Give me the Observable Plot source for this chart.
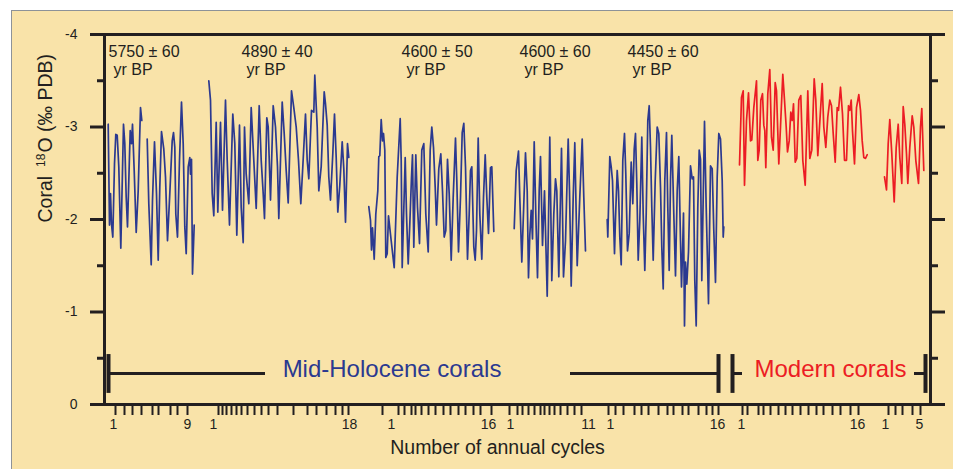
<!DOCTYPE html>
<html><head><meta charset="utf-8">
<script src="https://cdn.jsdelivr.net/npm/d3@7"></script>
<script src="https://cdn.jsdelivr.net/npm/@observablehq/plot@0.6"></script>
<style>
html,body{margin:0;padding:0;background:#fff;}
#wrap{position:relative;width:953px;height:469px;overflow:hidden;}
#bg{position:absolute;left:11px;top:10px;right:0;bottom:0;background:#f9e3a9;border-top:1.5px solid #8d9298;border-left:1.5px solid #8d9298;}
#chart{position:absolute;left:0;top:0;}
</style></head><body>
<div id="wrap"><div id="bg"></div><div id="chart"></div></div>
<script>
// ---- data: [composite position along record, coral d18O (‰ PDB)] ----
const mh5750a = [[107.7,-3.03],[109.0,-1.94],[110.0,-2.28],[111.0,-1.95],[112.3,-1.81],[114.0,-2.60],[115.3,-2.92],[116.7,-2.91],[118.3,-2.57],[120.3,-1.69],[123.0,-3.03],[124.3,-2.82],[125.7,-2.24],[127.0,-1.92],[129.7,-2.96],[131.0,-2.82],[132.0,-3.03],[133.7,-2.53],[135.7,-1.86],[137.7,-2.31],[140.0,-3.21],[141.3,-3.07]];
const mh5750b = [[146.7,-2.87],[148.3,-2.17],[150.7,-1.51],[152.0,-2.21],[154.0,-2.84],[156.0,-2.28],[157.7,-1.56],[159.3,-2.35],[161.0,-2.95],[163.3,-2.76],[165.0,-2.46],[167.0,-1.77],[169.3,-2.28],[171.7,-2.85],[173.0,-2.94],[174.3,-2.78],[175.3,-2.06],[177.0,-1.81],[179.0,-2.64],[181.0,-3.27],[182.7,-2.82],[184.3,-1.92],[185.7,-1.63],[187.7,-2.57],[189.3,-2.67],[190.0,-2.49],[191.0,-2.65],[192.0,-1.41],[193.7,-1.94]];
const mh4890 = [[208.3,-3.50],[210.0,-3.29],[211.7,-2.28],[213.3,-2.04],[215.7,-3.05],[217.3,-2.08],[220.0,-3.05],[222.0,-2.10],[225.0,-3.29],[226.7,-2.64],[229.0,-1.94],[232.3,-3.14],[234.3,-2.82],[236.3,-1.83],[239.0,-3.02],[240.7,-2.13],[242.7,-1.75],[244.0,-3.00],[245.7,-2.49],[248.3,-2.17],[250.7,-3.21],[253.3,-2.64],[255.7,-2.12],[258.7,-3.23],[260.7,-2.64],[262.7,-2.28],[264.0,-2.01],[266.3,-3.10],[267.7,-3.00],[270.0,-2.21],[272.7,-3.23],[275.0,-3.00],[277.0,-2.57],[278.3,-2.01],[281.7,-3.27],[283.7,-2.93],[285.7,-2.53],[287.7,-2.18],[291.0,-3.39],[293.3,-3.21],[295.7,-3.00],[298.0,-2.64],[300.3,-2.17],[302.3,-2.57],[305.0,-3.14],[306.7,-2.64],[308.3,-2.44],[311.0,-3.18],[313.3,-3.16],[314.3,-3.56],[316.7,-3.00],[318.3,-2.31],[320.7,-2.57],[323.7,-3.38],[325.0,-3.25],[326.7,-3.02],[328.3,-2.46],[330.0,-2.21],[332.3,-2.71],[334.0,-3.14],[335.7,-2.67],[337.3,-2.08],[339.3,-2.37],[341.7,-2.84],[343.3,-2.55],[345.0,-1.97],[347.0,-2.82],[348.3,-2.67]];
const mh4600a = [[368.3,-2.14],[370.0,-1.99],[371.0,-1.67],[372.0,-1.91],[373.7,-1.57],[375.3,-2.06],[377.3,-2.31],[378.3,-2.68],[379.3,-2.69],[380.7,-3.08],[382.0,-2.85],[383.0,-2.93],[384.3,-2.75],[385.3,-1.59],[386.7,-1.63],[388.0,-2.04],[390.7,-1.77],[393.7,-1.48],[396.7,-2.46],[399.7,-3.09],[400.7,-2.64],[401.7,-1.48],[403.0,-1.99],[404.7,-2.67],[406.0,-2.06],[407.7,-1.52],[409.3,-1.95],[411.0,-2.46],[412.0,-2.70],[413.3,-1.70],[415.3,-2.70],[417.0,-2.13],[419.0,-1.74],[421.3,-2.75],[423.3,-2.82],[425.3,-2.06],[427.7,-1.65],[429.7,-2.75],[431.3,-3.00],[433.0,-2.78],[434.7,-2.35],[436.0,-1.94],[438.3,-2.55],[440.3,-2.71],[442.0,-2.31],[443.7,-1.81],[445.3,-1.88],[447.0,-2.65],[448.7,-2.28],[450.7,-1.56],[452.7,-2.24],[455.0,-2.88],[456.3,-2.42],[458.0,-1.65],[460.0,-2.24],[461.7,-2.94],[463.3,-3.04],[465.0,-2.57],[467.0,-1.57],[468.7,-2.06],[470.0,-2.53],[471.3,-2.57],[473.3,-1.70],[474.7,-1.56],[476.0,-1.88],[477.7,-2.88],[479.3,-2.06],[481.3,-1.57],[483.0,-2.24],[484.7,-2.70],[486.3,-2.24],[488.0,-1.85],[490.0,-2.56],[491.3,-2.57],[493.3,-1.87]];
const mh4600b = [[513.7,-1.90],[515.7,-2.53],[518.0,-2.74],[519.3,-2.24],[521.3,-1.54],[523.3,-2.17],[525.0,-2.72],[526.7,-2.31],[528.0,-1.37],[529.3,-1.83],[530.7,-2.10],[532.0,-1.79],[533.7,-2.84],[535.3,-2.06],[537.0,-1.37],[538.7,-2.31],[540.0,-2.68],[542.0,-1.72],[544.0,-2.31],[546.7,-1.17],[548.0,-1.99],[549.3,-2.89],[551.3,-1.34],[553.3,-2.06],[555.0,-2.44],[556.3,-2.31],[558.3,-1.38],[561.0,-2.77],[563.0,-1.38],[565.0,-1.77],[567.7,-2.87],[569.0,-2.31],[570.7,-1.28],[572.7,-2.24],[574.3,-2.83],[576.7,-1.50],[579.3,-2.24],[581.7,-2.87],[583.3,-2.24],[585.0,-1.66]];
const mh4450 = [[606.7,-2.00],[607.3,-1.81],[609.3,-2.68],[610.7,-2.57],[612.0,-2.42],[614.0,-1.63],[615.0,-2.01],[616.7,-2.53],[618.0,-2.31],[619.3,-1.81],[620.7,-1.51],[622.3,-2.64],[624.0,-2.93],[625.3,-2.49],[627.0,-1.66],[628.7,-1.85],[630.7,-2.62],[632.3,-2.17],[633.7,-2.76],[635.0,-2.93],[636.3,-2.39],[637.7,-1.56],[639.3,-1.99],[641.3,-2.89],[642.7,-2.06],[644.3,-1.45],[645.7,-2.06],[647.3,-3.07],[648.7,-3.23],[650.0,-2.78],[651.3,-2.13],[652.7,-1.56],[654.7,-2.42],[656.7,-3.00],[658.3,-2.93],[660.0,-2.35],[661.3,-1.70],[662.7,-1.25],[664.3,-2.42],[666.0,-2.94],[667.3,-2.13],[668.7,-1.45],[670.0,-2.42],[671.3,-2.91],[673.3,-2.06],[675.0,-1.39],[676.7,-2.31],[678.3,-2.68],[680.0,-1.77],[681.0,-1.27],[682.0,-1.63],[683.0,-2.07],[684.0,-0.85],[685.0,-1.54],[686.3,-1.30],[688.0,-1.65],[690.0,-2.58],[691.7,-2.44],[693.0,-2.46],[694.3,-1.34],[695.7,-0.85],[697.3,-2.13],[698.7,-2.75],[700.0,-2.65],[701.3,-1.34],[704.0,-3.06],[705.7,-2.13],[708.0,-1.09],[710.0,-2.58],[711.7,-2.55],[713.3,-1.88],[715.0,-1.32],[716.7,-2.46],[718.3,-2.93],[720.0,-2.87],[721.7,-2.42],[722.7,-1.81],[723.3,-1.92]];
const modernA = [[739.0,-2.59],[741.0,-3.32],[742.7,-3.39],[744.0,-2.37],[746.0,-3.07],[748.0,-3.37],[750.0,-2.85],[751.3,-2.86],[753.3,-3.21],[756.0,-3.50],[757.3,-2.64],[758.7,-2.75],[760.3,-3.29],[762.0,-3.36],[763.3,-3.02],[764.3,-2.96],[765.3,-2.56],[767.3,-3.36],[769.3,-3.62],[771.0,-2.89],[772.7,-2.75],[774.7,-3.48],[776.0,-3.39],[778.3,-2.60],[780.0,-3.00],[782.3,-3.57],[784.0,-3.29],[785.7,-3.00],[787.0,-2.73],[788.7,-2.85],[790.3,-3.16],[791.7,-3.07],[793.0,-3.25],[794.7,-2.62],[796.3,-2.66],[798.3,-3.29],[800.3,-3.34],[802.3,-2.64],[804.7,-2.37],[807.3,-3.39],[809.3,-2.66],[811.3,-2.75],[813.7,-3.52],[815.3,-3.29],[817.3,-2.69],[820.0,-3.18],[821.7,-3.47],[823.3,-3.00],[825.3,-2.78],[827.3,-3.11],[829.3,-3.29],[831.0,-3.23],[832.7,-2.93],[834.7,-2.62],[836.7,-3.21],[838.0,-3.18],[840.0,-3.43],[842.0,-3.14],[844.0,-2.64],[846.0,-2.64],[848.0,-3.23],[849.3,-3.18],[850.7,-3.29],[852.0,-2.96],[854.0,-2.60],[856.0,-3.21],[858.3,-3.35],[860.0,-3.18],[861.7,-2.85],[863.3,-2.67],[865.0,-2.66],[866.7,-2.70]];
const modernB = [[884.0,-2.46],[886.0,-2.32],[887.7,-2.82],[889.3,-3.08],[891.3,-2.71],[893.7,-2.19],[895.7,-2.78],[897.7,-3.03],[899.3,-2.67],[901.3,-2.39],[902.7,-3.22],[904.3,-3.03],[906.0,-2.71],[907.3,-2.39],[909.3,-2.78],[911.7,-3.12],[913.3,-3.00],[915.3,-2.64],[918.0,-2.39],[920.0,-3.00],[921.3,-3.20],[923.3,-2.53]];

const ageLabels = ["5750 \u00b1 60", "4890 \u00b1 40", "4600 \u00b1 50", "4600 \u00b1 60", "4450 \u00b1 60"];
const yMajor = [-4, -3, -2, -1, 0];
const yMinor = [-3.5, -2.5, -1.5, -0.5];
// annual-cycle tick positions along the composite record
const cycleTicks = [115,124,132,141,152,158,170,177,187,
  218,222,226,231,236,241,247,254,261,268,277,293,307,316,326,335,342,348,
  382,398,404,411,415,421,428,435,443,450,458,465,473,480,491,
  509,517,522,528,534,540,544,549,554,560,567,574,581,
  608,615,623,634,641,648,658,667,673,682,688,698,706,712,718,
  742,747,758,763,770,778,785,792,800,808,816,823,832,840,850,858,
  888,895,902,912,920];
const cycleLabels = ["1","9","1","18","1","16","1","11","1","16","1","16","1","5"];
const cycleLabelPos = [113,187,213,349,391,488,510,588,610,717,741,857,885,919];

// ---- annotation layout (data coordinates) ----
const ageLabelX = [108, 241, 401, 519, 627];
const legendGroups = [
  {text: "Mid-Holocene corals", center: 391.5, segs: [[108, 265], [570, 718]], ends: [108, 718], era: "mid"},
  {text: "Modern corals", center: 830, segs: [[732, 742], [914, 925]], ends: [732, 925], era: "modern"}
];

const INK = "#231f20", BLUE = "#2b3990", RED = "#ec1c24";
const FONT = "'Liberation Sans', Arial, Helvetica, sans-serif";

const series = [
  {id: "a", era: "mid", pts: mh5750a}, {id: "b", era: "mid", pts: mh5750b},
  {id: "c", era: "mid", pts: mh4890}, {id: "d", era: "mid", pts: mh4600a},
  {id: "e", era: "mid", pts: mh4600b}, {id: "f", era: "mid", pts: mh4450},
  {id: "g", era: "modern", pts: modernA}, {id: "h", era: "modern", pts: modernB}
];
const lineData = series.flatMap(s => s.pts.map(([x, v]) => ({x, v, id: s.id, era: s.era})));
const labelMap = new Map(cycleLabelPos.map((p, i) => [p, cycleLabels[i]]));
const yTitle = "Coral 18O (\u2030 PDB)";

const segRows = legendGroups.flatMap(g => g.segs.map(s => ({x1: s[0], x2: s[1]})));
const endRows = legendGroups.flatMap(g => g.ends.map(e => ({x: e})));

const plot = Plot.plot({
  width: 953, height: 469,
  marginLeft: 104, marginRight: 23, marginTop: 34, marginBottom: 65,
  x: {domain: [104, 930]},
  y: {domain: [0, -4]},
  style: {background: "transparent", fontFamily: FONT, color: INK, overflow: "visible"},
  marks: [
    Plot.frame({stroke: INK, strokeWidth: 3}),
    Plot.ruleY([-4, 0], {stroke: INK, strokeWidth: 3, insetLeft: -14, insetRight: -14}),
    Plot.axisY({anchor: "left", ticks: yMajor, tickSize: 14, tickPadding: 13, tickFormat: d => String(d), fontSize: 14, stroke: INK, fill: INK, strokeWidth: 3, label: null}),
    Plot.axisY({anchor: "left", ticks: yMinor, tickSize: 7, tickFormat: () => "", stroke: INK, strokeWidth: 3, label: null}),
    Plot.axisY({anchor: "right", ticks: yMajor, tickSize: 14, tickFormat: () => "", stroke: INK, strokeWidth: 3, label: null}),
    Plot.axisY({anchor: "right", ticks: yMinor, tickSize: 7, tickFormat: () => "", stroke: INK, strokeWidth: 3, label: null}),
    Plot.axisX({anchor: "bottom", ticks: cycleTicks, tickSize: 11, tickFormat: () => "", stroke: INK, strokeWidth: 2, label: null}),
    Plot.axisX({anchor: "bottom", ticks: cycleLabelPos, tickSize: 0, tickPadding: 15, tickFormat: d => labelMap.get(d), fontSize: 14, fill: INK, label: null}),
    Plot.line(lineData.filter(d => d.era === "mid"), {x: "x", y: "v", z: "id", stroke: BLUE, strokeWidth: 1.7, strokeLinejoin: "round"}),
    Plot.line(lineData.filter(d => d.era === "modern"), {x: "x", y: "v", z: "id", stroke: RED, strokeWidth: 1.7, strokeLinejoin: "round"}),
    Plot.ruleY(segRows, {x1: "x1", x2: "x2", y: () => -0.335, stroke: INK, strokeWidth: 3}),
    Plot.ruleX(endRows, {x: "x", y1: () => -0.54, y2: () => -0.12, stroke: INK, strokeWidth: 4}),
    Plot.text(legendGroups, {x: "center", y: () => -0.30, text: "text", fill: d => d.era === "mid" ? BLUE : RED, fontSize: 24, lineAnchor: "bottom"}),
    Plot.text(ageLabels, {x: (d, i) => ageLabelX[i], y: () => -3.76, text: d => d, textAnchor: "start", lineAnchor: "bottom", fontSize: 16, fill: INK}),
    Plot.text(ageLabels, {x: (d, i) => ageLabelX[i], y: () => -3.557, text: () => "yr BP", dx: 5, textAnchor: "start", lineAnchor: "bottom", fontSize: 16, fill: INK}),
    Plot.text(["Number of annual cycles"], {frameAnchor: "bottom", dx: -20, dy: 49, lineAnchor: "bottom", fontSize: 19.5, fill: INK}),
    Plot.text([yTitle], {frameAnchor: "left", rotate: -90, dx: -59, dy: 3, fontSize: 19.5, fill: INK})
  ]
});

// heavier y-axis ticks, as in the printed figure
d3.select(plot).selectAll('[aria-label="y-axis tick"]').attr("stroke-width", 3)
  .selectAll("path").attr("stroke-width", 3);
d3.select(plot).selectAll('[aria-label="x-axis tick"]').attr("stroke-width", 2);

// superscript "18" in the y-axis title
d3.select(plot).selectAll("text").filter(function() { return this.textContent === yTitle; }).each(function() {
  const t = d3.select(this);
  t.text(null);
  t.append("tspan").text("Coral");
  t.append("tspan").attr("dx", 9).attr("dy", -7).attr("font-size", 12).text("18");
  t.append("tspan").attr("dy", 7).attr("dx", 1).text("O");
  t.append("tspan").text(" (\u2030 PDB)");
});

document.getElementById("chart").appendChild(plot);
</script>
</body></html>
